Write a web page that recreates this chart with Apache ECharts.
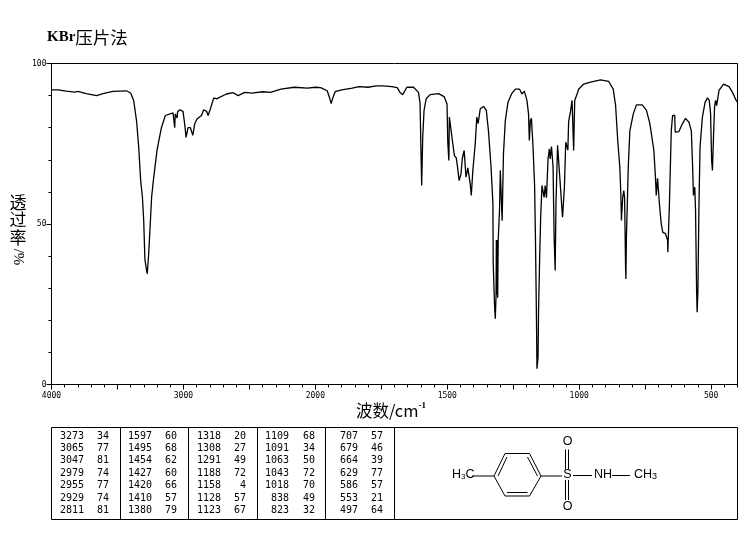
<!DOCTYPE html>
<html>
<head>
<meta charset="utf-8">
<style>html,body{margin:0;padding:0;background:#fff}#c{width:748px;height:539px}</style>
<script src="https://cdn.jsdelivr.net/npm/echarts@6/dist/echarts.min.js"></script>
</head>
<body>
<div id="c"></div>
<script>
const wavenumbers = [
4000,3950,3888,3825,3800,3737,3658,3610,3535,3433,
3400,3377,3355,3339,3324,3311,3301,3292,3279,3274,
3263,3254,3241,3228,3200,3167,3137,3079,3070,3066,
3062,3052,3048,3044,3028,3003,2990,2980,2965,2947,
2929,2914,2897,2863,2846,2825,2813,2795,2770,2749,
2674,2623,2585,2535,2480,2400,2340,2260,2160,2060,
2000,1980,1955,1945,1940,1935,1925,1900,1860,1834,
1800,1770,1745,1710,1690,1679,1669,1653,1628,1609,
1603,1600,1597,1593,1588,1580,1565,1533,1512,1501,
1498,1494,1492,1486,1479,1473,1466,1461,1455,1448,
1443,1436,1429,1422,1413,1409,1403,1394,1388,1383,
1375,1362,1352,1344,1334,1327,1326,1321,1318,1315,
1314,1313,1312,1311,1310,1309,1307,1302,1299,1295,
1293,1292,1291,1287,1280,1270,1255,1242,1226,1217,
1208,1198,1192,1189,1185,1181,1175,1169,1166,1162,
1160,1156,1154,1150,1146,1141,1137,1133,1129,1124,
1118,1113,1110,1105,1099,1095,1091,1088,1082,1076,
1070,1065,1063,1056,1051,1046,1043,1040,1033,1027,
1023,1021,1017,1008,1002,983,957,919,888,871,
862,854,846,842,840,835,831,828,824,823,
821,814,808,795,783,761,745,732,717,711,
708,703,696,689,683,673,665,664,658,651,
646,638,636,622,609,597,584,575,570,567,
562,559,555,553,550,546,542,533,523,514,
507,502,498,495,491,487,483,479,470,453,
432,419,404,400];
const transmittance = [
91.8,91.8,91.4,91.1,91.3,90.6,90,90.6,91.3,91.5,
90.8,88.5,82,74,63.5,58.4,51,39,35.5,34.5,
41,48,58.4,63.5,73,80,83.8,84.6,84.3,80,
84.3,84.4,83,85,85.6,85.1,81,77,80,80,
77.6,81.3,82.7,83.8,85.6,85.1,83.8,86,89.3,89,
90.5,90.9,90,91,90.8,91.2,91,92,92.6,92.3,
92.6,92.5,91.5,89,87.5,89,91.2,91.8,92.3,92.8,
92.6,93,93,92.8,92.5,91,90.3,92.6,92.6,91,
87.4,74,62,77,85.4,89,90.3,90.6,89.7,87.4,
75.5,69.8,83.3,83.3,75,71.3,70.6,67.7,63.5,65.6,
70.4,72.9,64.6,67.5,62.5,58.9,66.7,75,83.3,81.3,
85.9,86.6,85.4,79.1,67.7,56.3,38.1,25.1,20.5,28,
45,28,45,28,45,27,45,54.2,66.7,67.3,
67,51,50.6,71.9,82.2,87.9,90.7,92,92,90.5,
91.4,88.5,84.3,76,82.2,82.9,74,62,46.9,21,
4.9,8.5,23,38.6,52.1,62,62.3,58.3,62,58.2,
70.3,73.4,70.3,74.1,67.7,45.9,35.5,56.3,74.5,75,
60.4,54.2,52.1,61.5,75.5,75,73,82,85,88.5,
88.5,72.9,88.5,90.5,92,93.6,94.2,94.9,94.4,92,
86.9,76,67.7,58.9,51.1,58.3,60.4,58.3,35.5,32.9,
45.9,67.7,79,84.3,87.1,87.1,85.4,81.2,72.9,64.6,
58.9,64.2,56.3,50,47.4,47,44.9,41.2,56.3,79,
83.8,83.8,78.6,78.8,81.2,82.9,81.7,79,67.7,58.9,
61.5,54.2,29.3,22.5,29.3,56.3,74,83.3,87.9,89.3,
88.5,84.3,69.8,66.7,77,86.4,88.5,86.9,91.6,93.6,
92.8,91,88.3,88];

const xTickLabels = ['4000','3000','2000','1500','1000','500'];
const yTickLabels = ['0','50','100'];

const peakWavenumbers = [
['3273','3065','3047','2979','2955','2929','2811'],
['1597','1495','1454','1427','1420','1410','1380'],
['1318','1308','1291','1188','1158','1128','1123'],
['1109','1091','1063','1043','1018','838','823'],
['707','679','664','629','586','553','497']];
const peakValues = [
['34','77','81','74','77','74','81'],
['60','68','62','60','66','57','79'],
['20','27','49','72','4','57','67'],
['68','34','50','72','70','49','32'],
['57','46','39','77','57','21','64']];

// The abscissa changes scale at 2000 cm-1: 1000 per division above, 500 per division below.
const toScale = w => w > 2000 ? (4000 - w) / 1000 : 2 + (2000 - w) / 500;
const series = wavenumbers.map((w, i) => [toScale(w), transmittance[i]]);

const MONO = '"DejaVu Sans Mono"';
const CJK = '"Noto Sans CJK SC"';
const SERIF = '"Liberation Serif"';
const INK = '#000';

const graphic = [];
const line = (x1, y1, x2, y2, lineWidth = 1) => graphic.push({
  type: 'line', silent: true,
  shape: {x1, y1, x2, y2},
  style: {stroke: INK, lineWidth}
});
const text = (x, y, t, font, align = 'center', extra = {}) => graphic.push(Object.assign({
  type: 'text', silent: true, x, y,
  style: {text: t, font, fill: INK, align, verticalAlign: 'middle'}
}, extra));

// Title and axis names
text(47, 37, '{a|KBr}{b|压片法}', '16px ' + CJK, 'left');
graphic[graphic.length - 1].style.rich = {
  a: {font: 'bold 15px ' + SERIF, fill: INK},
  b: {font: '17.5px ' + CJK, fill: INK}
};
text(391, 411, '{b|波数/cm}{s|-1}', '16px ' + CJK, 'center');
graphic[graphic.length - 1].style.rich = {
  b: {font: '16.5px ' + CJK, fill: INK},
  s: {font: 'bold 9px ' + SERIF, fill: INK, verticalAlign: 'top', padding: [0, 0, 10, 0]}
};
text(18, 203, '透', '17px ' + CJK);
text(18, 220, '过', '17px ' + CJK);
text(18, 238, '率', '17px ' + CJK);
text(18, 257, '/%', '15px ' + SERIF, 'center', {rotation: -Math.PI / 2});

// Peak table
const tableTop = 427.5, tableBottom = 519.5, tableLeft = 51.5, tableRight = 737.5;
line(tableLeft, tableTop, tableRight, tableTop);
line(tableLeft, tableBottom, tableRight, tableBottom);
[tableLeft, 120.5, 188.5, 257.5, 325.5, 394.5, tableRight].forEach(x => line(x, tableTop, x, tableBottom));
const colWave = [84, 152, 221, 289, 358];
const colVal = [109, 177, 246, 315, 383];
peakWavenumbers.forEach((col, c) => col.forEach((w, r) => {
  const y = 436 + r * 12.45;
  text(colWave[c], y, w, '10px ' + MONO, 'right');
  text(colVal[c], y, peakValues[c][r], '10px ' + MONO, 'right');
}));

// Structure
const ring = [[494, 476], [505, 453.5], [529.5, 453.5], [541, 476], [529.5, 496], [505, 496]];
ring.forEach((p, i) => { const q = ring[(i + 1) % 6]; line(p[0], p[1], q[0], q[1]); });
line(498, 476, 507, 457);
line(527.5, 457, 537.5, 476);
line(507, 492.5, 527.5, 492.5);
line(472.5, 476, 494, 476);
line(541, 476, 562, 476);
line(573, 475.5, 592, 475.5);
line(612, 475.5, 630, 475.5);
line(565.5, 449.5, 565.5, 469.5);
line(568.5, 449.5, 568.5, 469.5);
line(565.5, 480, 565.5, 500);
line(568.5, 480, 568.5, 500);
const CHEM = '12.5px "Liberation Sans"';
text(567.5, 475, 'S', CHEM);
text(567.5, 441.5, 'O', CHEM);
text(567.5, 507, 'O', CHEM);
text(603, 475, 'NH', CHEM);
text(452, 475, '{a|H}{s|3}{a|C}', CHEM, 'left');
graphic[graphic.length - 1].style.rich = {
  a: {font: CHEM, fill: INK},
  s: {font: '8px "Liberation Sans"', fill: INK, padding: [4, 0, 0, 0]}
};
text(634, 475, '{a|CH}{s|3}', CHEM, 'left');
graphic[graphic.length - 1].style.rich = {
  a: {font: CHEM, fill: INK},
  s: {font: '9px "Liberation Sans"', fill: INK, padding: [4, 0, 0, 0]}
};

const axisLine = {show: true, onZero: false, lineStyle: {color: INK, width: 1}};
const noSplit = {show: false};
const chart = echarts.init(document.getElementById('c'), null, {renderer: 'canvas'});
chart.setOption({
  animation: false,
  backgroundColor: '#fff',
  grid: {left: 51.5, right: 10.5, top: 63.5, bottom: 154.5, show: true, borderColor: INK, borderWidth: 1, backgroundColor: 'transparent'},
  xAxis: [
    {type: 'value', min: 0, max: 5.2, interval: 0.5, position: 'bottom',
     axisLine, splitLine: noSplit, axisTick: {show: true, length: 5, lineStyle: {color: INK}},
     axisLabel: {show: true, margin: 7, hideOverlap: false, showMaxLabel: false,
       fontFamily: 'DejaVu Sans Mono', fontSize: 8, color: INK,
       formatter: v => { const k = Math.round(v); return Math.abs(k - v) < 1e-6 ? (xTickLabels[k] || '') : ''; }}},
    {type: 'value', min: 0, max: 5.2, interval: 0.1, position: 'bottom',
     axisLine, splitLine: noSplit, axisTick: {show: true, length: 3, lineStyle: {color: INK}},
     axisLabel: {show: false}}
  ],
  yAxis: [
    {type: 'value', min: 0, max: 100, interval: 50, position: 'left',
     axisLine, splitLine: noSplit, axisTick: {show: true, length: 5, lineStyle: {color: INK}},
     axisLabel: {show: true, margin: 5, fontFamily: 'DejaVu Sans Mono', fontSize: 8, color: INK,
       formatter: v => yTickLabels[v / 50]}},
    {type: 'value', min: 0, max: 100, interval: 10, position: 'left',
     axisLine, splitLine: noSplit, axisTick: {show: true, length: 3, lineStyle: {color: INK}},
     axisLabel: {show: false}}
  ],
  series: [{
    type: 'line', data: series, xAxisIndex: 0, yAxisIndex: 0,
    showSymbol: false, symbol: 'none', smooth: false, clip: true,
    lineStyle: {color: INK, width: 1.3}
  }],
  graphic: {elements: graphic}
});
</script>
</body>
</html>
